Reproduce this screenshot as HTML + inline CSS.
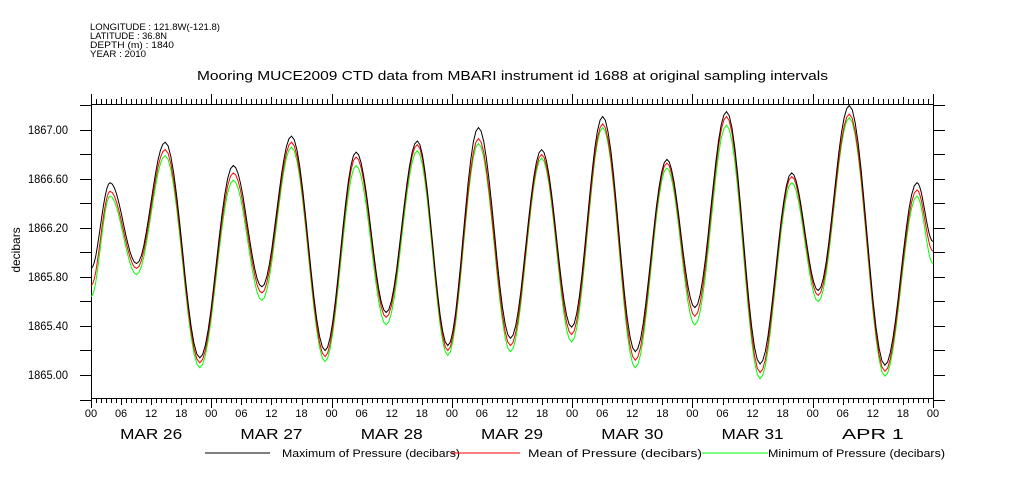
<!DOCTYPE html>
<html><head><meta charset="utf-8"><style>
body{margin:0;background:#fff;}
svg{display:block;font-family:"Liberation Sans",sans-serif;}
</style></head><body>
<svg id="chart" width="1009" height="504" viewBox="0 0 1009 504">
<rect width="1009" height="504" fill="#fff"/>
<g font-size="9" fill="#000">
<text x="90" y="30" textLength="130" lengthAdjust="spacingAndGlyphs">LONGITUDE : 121.8W(-121.8)</text>
<text x="90" y="39" textLength="77" lengthAdjust="spacingAndGlyphs">LATITUDE : 36.8N</text>
<text x="90" y="48" textLength="84" lengthAdjust="spacingAndGlyphs">DEPTH (m) : 1840</text>
<text x="90" y="57" textLength="56" lengthAdjust="spacingAndGlyphs">YEAR : 2010</text>
</g>
<text x="197" y="80" font-size="13" textLength="631" lengthAdjust="spacingAndGlyphs">Mooring MUCE2009 CTD data from MBARI instrument id 1688 at original sampling intervals</text>
<text transform="translate(20,250) rotate(-90)" font-size="12" text-anchor="middle">decibars</text>
<g id="axes"></g>
<g id="series"></g>
<g font-size="11">
<line x1="205" y1="453" x2="270" y2="453" stroke="#000"/>
<text x="282" y="457" textLength="178" lengthAdjust="spacingAndGlyphs">Maximum of Pressure (decibars)</text>
<line x1="452" y1="453" x2="520" y2="453" stroke="#f00"/>
<text x="528" y="457" textLength="174" lengthAdjust="spacingAndGlyphs">Mean of Pressure (decibars)</text>
<line x1="702" y1="453" x2="768" y2="453" stroke="#0f0"/>
<text x="768" y="457" textLength="177" lengthAdjust="spacingAndGlyphs">Minimum of Pressure (decibars)</text>
</g>
</svg>
<script>
// hours since MAR 26 00:00 at each turning point
const hours = [0,3.8,9.1,14.8,21.7,28.4,34.1,40.0,46.7,52.9,58.9,65.1,71.2,77.3,83.7,89.9,95.9,102.1,108.6,114.9,120.5,126.8,133.5,139.8,145.1,151.3,158.4,164.8,168];
const maxVals = [1865.87,1866.57,1865.91,1866.90,1865.14,1866.71,1865.72,1866.95,1865.20,1866.82,1865.51,1866.91,1865.24,1867.02,1865.30,1866.84,1865.39,1867.11,1865.19,1866.76,1865.55,1867.15,1865.09,1866.65,1865.69,1867.20,1865.08,1866.57,1866.09];
const meanVals = [1865.73,1866.50,1865.87,1866.84,1865.10,1866.65,1865.67,1866.90,1865.15,1866.78,1865.47,1866.88,1865.20,1866.93,1865.24,1866.80,1865.33,1867.05,1865.12,1866.73,1865.48,1867.11,1865.02,1866.62,1865.65,1867.13,1865.03,1866.51,1866.01];
const minVals = [1865.64,1866.46,1865.82,1866.79,1865.06,1866.59,1865.61,1866.86,1865.11,1866.71,1865.41,1866.83,1865.16,1866.89,1865.19,1866.77,1865.27,1867.02,1865.06,1866.69,1865.41,1867.04,1864.97,1866.57,1865.60,1867.10,1864.99,1866.46,1865.91];
const yTickLabels = ["1865.00","1865.40","1865.80","1866.20","1866.60","1867.00"];
const hourLabels = ["00","06","12","18"];
const dayLabels = ["MAR 26","MAR 27","MAR 28","MAR 29","MAR 30","MAR 31","APR  1"];

const NS="http://www.w3.org/2000/svg";
const L=91,R=933,T=104,B=398;
const xS=h=>L+(h/168)*(R-L);
const yS=v=>130+(1867-v)*122.5;
function mk(tag,attrs,parent){const e=document.createElementNS(NS,tag);for(const k in attrs)e.setAttribute(k,attrs[k]);parent.appendChild(e);return e;}
const ax=document.getElementById('axes');
const frame=mk('rect',{x:L+0.5,y:T+0.5,width:R-L,height:B-T,fill:'none',stroke:'#000','stroke-width':1},ax);


let d='';
for(let h=0;h<=168;h++){
  const x=Math.round(xS(h))+0.5;
  const big=h%24===0, mid=h%6===0;
  const len=big?10:(mid?7:5);
  d+=`M${x},${B}v${len}M${x},${T}v${-len}`;
}
for(let v=1864.8;v<=1867.21;v+=0.2){
  const y=Math.round(yS(v))+0.5;
  d+=`M${L-11},${y}h11M${R},${y}h12`;
}
const ticks=mk('path',{d:d,stroke:'#000','stroke-width':1,fill:'none'},ax);


yTickLabels.forEach(s=>{
  const t=mk('text',{x:68,y:yS(parseFloat(s))+4,'font-size':12,'text-anchor':'end',textLength:40,lengthAdjust:'spacingAndGlyphs'},ax);
  t.textContent=s;
  
  
});
for(let h=0;h<=168;h+=6){
  const t=mk('text',{x:xS(h),y:417,'font-size':11,'text-anchor':'middle'},ax);
  t.textContent=hourLabels[(h/6)%4];
  
  
}
dayLabels.forEach((s,i)=>{
  const t=mk('text',{x:xS(i*24+12)-31,y:439,'font-size':15,textLength:62,lengthAdjust:'spacingAndGlyphs','xml:space':'preserve'},ax);
  t.textContent=s;
  
  
});
const sg=document.getElementById('series');
function curve(vals){
  let p=`M${xS(hours[0]).toFixed(1)},${yS(vals[0]).toFixed(1)}`;
  for(let i=0;i<hours.length-1;i++){
    const h0=hours[i],h1=hours[i+1],v0=vals[i],v1=vals[i+1];
    for(let k=1;k<=12;k++){
      const f=k/12,h=h0+(h1-h0)*f,w=(1-Math.cos(Math.PI*f))/2;
      p+=`L${xS(h).toFixed(1)},${yS(v0+(v1-v0)*w).toFixed(1)}`;
    }
  }
  return p;
}
const sMin=mk('path',{d:curve(minVals),stroke:'#0f0',fill:'none','stroke-width':1},sg);


const sMean=mk('path',{d:curve(meanVals),stroke:'#f00',fill:'none','stroke-width':1},sg);


const sMax=mk('path',{d:curve(maxVals),stroke:'#000',fill:'none','stroke-width':1},sg);


</script>
</body></html>
